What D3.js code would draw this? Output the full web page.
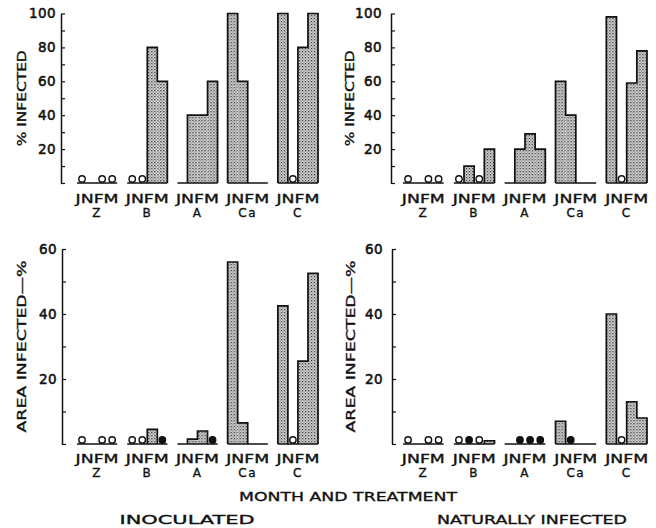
<!DOCTYPE html>
<html>
<head>
<meta charset="utf-8">
<script src="https://cdn.jsdelivr.net/npm/d3@7"></script>
<style>
  body { margin: 0; background: #fff; }
  svg { display: block; }
  text { font-family: "DejaVu Sans", sans-serif; fill: #111; stroke: #111; stroke-width: 0.35px; }
</style>
</head>
<body>
<div id="chart"></div>
<script>
// groups (treatments) and months
const groups = ["Z", "B", "A", "Ca", "C"];
const months = ["J", "N", "F", "M"];

// % infected, inoculated (top left)
const inocPct = [[0, 0, 0, 0], [0, 0, 80, 60], [0, 40, 40, 60], [100, 60, 0, 0], [100, 0, 80, 100]];
// % infected, naturally infected (top right)
const natPct = [[0, 0, 0, 0], [0, 10, 0, 20], [0, 20, 29, 20], [60, 40, 0, 0], [98, 0, 59, 78]];
// area infected %, inoculated (bottom left)
const inocArea = [[0, 0, 0, 0], [0, 0, 4.5, 0], [0, 1.5, 4, 0], [56, 6.5, 0, 0], [42.5, 0, 25.5, 52.5]];
// area infected %, naturally infected (bottom right)
const natArea = [[0, 0, 0, 0], [0, 0, 0, 1], [0, 0, 0, 0], [7, 0, 0, 0], [40, 0, 13, 8]];

// zero markers: o = open circle, f = filled circle, - = none
const inocPctMarks = ["o-oo", "oo--", "----", "----", "-o--"];
const natPctMarks = ["o-oo", "o-o-", "----", "----", "-o--"];
const inocAreaMarks = ["o-oo", "oo-f", "---f", "----", "-o--"];
const natAreaMarks = ["o-oo", "ofo-", "-fff", "-f--", "-o--"];

const pctTicks = [0, 10, 20, 30, 40, 50, 60, 70, 80, 90, 100];
const areaTicks = [0, 10, 20, 30, 40, 50, 60];

const width = 656, height = 528;

const svg = d3.select("#chart").append("svg")
    .attr("width", width)
    .attr("height", height);

svg.append("rect").attr("width", width).attr("height", height).attr("fill", "#fff");

// stipple pattern for the bars
const defs = svg.append("defs");
const pat = defs.append("pattern")
    .attr("id", "stipple")
    .attr("patternUnits", "userSpaceOnUse")
    .attr("width", 3).attr("height", 3);
pat.append("rect").attr("width", 3).attr("height", 3).attr("fill", "#e2e2e2");
pat.append("rect").attr("x", 0).attr("y", 0).attr("width", 1.3).attr("height", 1.3).attr("fill", "#2a2a2a");
pat.append("rect").attr("x", 1.5).attr("y", 1.5).attr("width", 1.2).attr("height", 1.2).attr("fill", "#555");

const panels = [
    {values: inocPct, marks: inocPctMarks, ticks: pctTicks, max: 100, axisX: 61, xr: [77, 318], yr: [183, 13.5], pad: 5,
        title: "% INFECTED", titleX: 22, titleLen: 96, monthY: 203, groupY: 217},
    {values: natPct, marks: natPctMarks, ticks: pctTicks, max: 100, axisX: 391, xr: [403, 647], yr: [183, 13.5], pad: 9,
        title: "% INFECTED", titleX: 350, titleLen: 96, monthY: 203, groupY: 217},
    {values: inocArea, marks: inocAreaMarks, ticks: areaTicks, max: 60, axisX: 62, xr: [77, 318], yr: [444, 249], pad: 5,
        title: "AREA INFECTED\u2014%", titleX: 22, titleLen: 172, monthY: 463, groupY: 477},
    {values: natArea, marks: natAreaMarks, ticks: areaTicks, max: 60, axisX: 392, xr: [403, 647], yr: [444, 249], pad: 9,
        title: "AREA INFECTED\u2014%", titleX: 351, titleLen: 172, monthY: 463, groupY: 477}
];

panels.forEach(p => {
    const g = svg.append("g");

    const y = d3.scaleLinear().domain([0, p.max]).range(p.yr);
    const x = d3.scaleBand().domain(groups).range(p.xr).paddingInner(0.2).paddingOuter(0);
    const xm = d3.scaleBand().domain(months).range([0, x.bandwidth()]);

    // y axis, ticks pointing inward
    const axis = d3.axisLeft(y)
        .tickValues(p.ticks)
        .tickSizeInner(-4)
        .tickSizeOuter(0)
        .tickPadding(p.pad)
        .tickFormat(d => (d > 0 && d % 20 === 0) ? d : "");
    const ax = g.append("g")
        .attr("transform", `translate(${p.axisX},0)`)
        .call(axis);
    ax.select(".domain").attr("stroke", "#111").attr("stroke-width", 1.5);
    ax.selectAll(".tick line").attr("stroke", "#111").attr("stroke-width", 1.2);
    ax.selectAll(".tick text")
        .attr("font-size", 13.5)
        .attr("letter-spacing", 0.4)
        .attr("fill", "#111")
        .style("font-family", "DejaVu Sans, sans-serif")
        .style("stroke", "#111")
        .style("stroke-width", "0.55px");

    // y title
    const cy = (p.yr[0] + p.yr[1]) / 2;
    g.append("text")
        .attr("transform", `translate(${p.titleX},${cy}) rotate(-90)`)
        .attr("text-anchor", "middle")
        .attr("dy", "0.35em")
        .attr("font-size", 12.5)
        .attr("textLength", p.titleLen)
        .attr("lengthAdjust", "spacingAndGlyphs")
        .text(p.title);

    groups.forEach((grp, gi) => {
        const vals = p.values[gi];
        const x0 = x(grp);
        const gg = g.append("g").attr("transform", `translate(${x0},0)`);

        // bars
        gg.selectAll("rect.bar")
            .data(vals.map((v, i) => ({v, m: months[i]})).filter(d => d.v > 0))
            .join("rect")
            .attr("class", "bar")
            .attr("x", d => xm(d.m))
            .attr("width", xm.bandwidth())
            .attr("y", d => y(d.v))
            .attr("height", d => y(0) - y(d.v))
            .attr("fill", "url(#stipple)");

        // stepped outline of the bars
        let path = "";
        vals.forEach((v, i) => {
            const prev = i > 0 ? vals[i - 1] : 0;
            const next = i < vals.length - 1 ? vals[i + 1] : 0;
            const xa = xm(months[i]), xb = xa + xm.bandwidth();
            if (v > 0) {
                if (prev <= 0) path += `M${xa},${y(0)}`;
                path += `V${y(v)}H${xb}`;
                if (next <= 0) path += `V${y(0)}`;
            }
        });
        if (path) {
            gg.append("path")
                .attr("d", path)
                .attr("fill", "none")
                .attr("stroke", "#111")
                .attr("stroke-width", 1.7);
        }

        // baseline
        gg.append("line")
            .attr("x1", 0).attr("x2", x.bandwidth())
            .attr("y1", y(0)).attr("y2", y(0))
            .attr("stroke", "#111")
            .attr("stroke-width", 1.5);

        // zero markers
        const marks = p.marks[gi].split("").map((c, i) => ({c, m: months[i]})).filter(d => d.c !== "-");
        gg.selectAll("circle")
            .data(marks)
            .join("circle")
            .attr("cx", d => xm(d.m) + xm.bandwidth() / 2)
            .attr("cy", y(0) - 4)
            .attr("r", 3.2)
            .attr("fill", d => d.c === "f" ? "#111" : "#fff")
            .attr("stroke", "#111")
            .attr("stroke-width", 1.4);

        // month letters and group name
        g.append("text")
            .attr("x", x0 + x.bandwidth() / 2)
            .attr("y", p.monthY)
            .attr("text-anchor", "middle")
            .attr("font-size", 12)
            .attr("textLength", 43)
            .attr("lengthAdjust", "spacingAndGlyphs")
            .text(months.join(""));
        g.append("text")
            .attr("x", x0 + x.bandwidth() / 2)
            .attr("y", p.groupY)
            .attr("text-anchor", "middle")
            .attr("font-size", 12)
            .attr("letter-spacing", 1.5)
            .text(grp);
    });
});

svg.append("text")
    .attr("x", 348).attr("y", 501)
    .attr("text-anchor", "middle")
    .attr("font-size", 12.5)
    .attr("textLength", 218)
    .attr("lengthAdjust", "spacingAndGlyphs")
    .text("MONTH AND TREATMENT");

svg.append("text")
    .attr("x", 187).attr("y", 524)
    .attr("text-anchor", "middle")
    .attr("font-size", 12.5)
    .attr("textLength", 135)
    .attr("lengthAdjust", "spacingAndGlyphs")
    .text("INOCULATED");

svg.append("text")
    .attr("x", 532).attr("y", 524)
    .attr("text-anchor", "middle")
    .attr("font-size", 12.5)
    .attr("textLength", 190)
    .attr("lengthAdjust", "spacingAndGlyphs")
    .text("NATURALLY INFECTED");
</script>
</body>
</html>
